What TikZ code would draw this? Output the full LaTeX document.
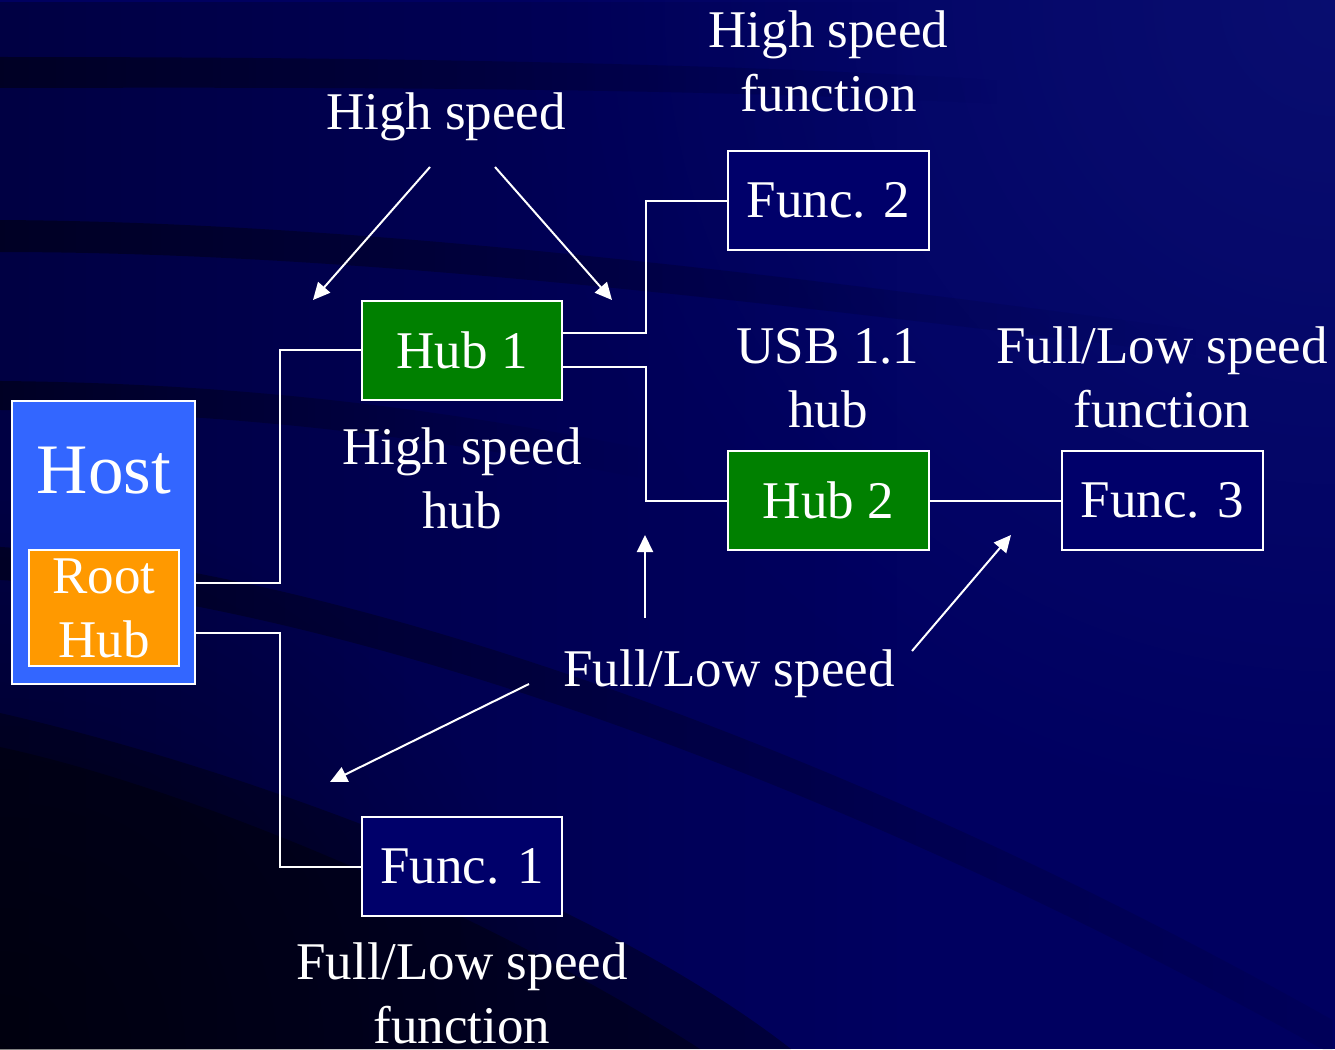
\documentclass[tikz,border=0pt]{standalone}
\usepackage{fontspec}
\setmainfont{Liberation Serif}
\usetikzlibrary{arrows.meta,fadings}
\definecolor{bgbase}{HTML}{000060}
\definecolor{hostblue}{HTML}{3366FF}
\definecolor{rootorange}{HTML}{FF9900}
\definecolor{hubgreen}{HTML}{008000}
\definecolor{funcnavy}{HTML}{00006A}
\definecolor{glowblue}{HTML}{1E2E96}
\tikzfading[name=fadeout right, left color=transparent!0, right color=transparent!100]
\tikzfading[name=fadehalf right, left color=transparent!0, right color=transparent!85]
\tikzfading[name=glowfade, inner color=transparent!0, outer color=transparent!100]
\begin{document}
\begin{tikzpicture}[x=1pt,y=-1pt,
  nodebox/.style={draw=white, line width=2pt, minimum width=200pt, minimum height=99pt,
    inner sep=0pt, text=white, font=\fontsize{53}{64}\selectfont},
  hubbox/.style={nodebox, fill=hubgreen},
  funcbox/.style={nodebox, fill=funcnavy},
  lbl/.style={text=white, font=\fontsize{53}{64}\selectfont, align=center,
    inner sep=0pt, anchor=base},
  wire/.style={draw=white, line width=2pt},
  pointer/.style={draw=white, line width=2pt, -{Triangle[length=17pt,width=16pt]}},
  band/.style={fill=black, opacity=#1},
]
\useasboundingbox (0,0) rectangle (1335,1049);
% ---------- background ----------
\begin{scope}
\clip (0,0) rectangle (1335,1049);
\fill[bgbase] (0,0) rectangle (1335,1049);
\fill[glowblue, opacity=0.3, path fading=glowfade] (1335,0) circle[radius=850pt];
\fill[black, opacity=0.3, path fading=fadeout right] (0,0) rectangle (900,1049);
% band A
\fill[band=0.45, path fading=fadeout right] (0,57) .. controls (350,57) and (700,62) .. (1000,80)
  -- (1000,104) .. controls (700,88) and (350,87) .. (0,88) -- cycle;
% band B
\fill[band=0.45, path fading=fadeout right] (0,220) .. controls (350,222) and (750,270) .. (1200,330)
  -- (1200,355) .. controls (750,300) and (350,252) .. (0,252) -- cycle;
% band C
\fill[band=0.45, path fading=fadeout right] (0,381) .. controls (200,383) and (400,400) .. (650,450)
  -- (650,480) .. controls (400,430) and (200,412) .. (0,410) -- cycle;
% band D
\fill[band=0.4, path fading=fadehalf right] (0,547) .. controls (300,565) and (800,720) .. (1335,1020)
  -- (1335,1055) .. controls (800,755) and (300,598) .. (0,580) -- cycle;
% dark lower-left region
\fill[band=0.35] (0,713) .. controls (250,770) and (600,900) .. (791,1049) -- (0,1049) -- cycle;
\fill[band=0.35] (0,747) .. controls (200,790) and (500,920) .. (700,1049) -- (0,1049) -- cycle;
\fill[black, opacity=0.45, path fading=glowfade] (0,1049) circle[radius=550pt];
\end{scope}
% ---------- boxes ----------
\node[nodebox, fill=hostblue, minimum width=183pt, minimum height=283pt] (host) at (103.5,542.5) {};
\node[text=white, font=\fontsize{71}{80}\selectfont, anchor=base, inner sep=0pt] (hosttxt) at (104,493) {Host};
\node[nodebox, fill=rootorange, minimum width=150pt, minimum height=116pt, align=center] (root) at (104,608) {Root\\Hub};
\node[hubbox] (hub1) at (462,350) {Hub 1};
\node[funcbox, minimum width=201pt] (func2) at (828.5,200.5) {Func. 2};
\node[hubbox, minimum width=201pt] (hub2) at (828.5,500.5) {Hub 2};
\node[funcbox, minimum width=201pt] (func3) at (1162.5,500.5) {Func. 3};
\node[funcbox] (func1) at (462,866.5) {Func. 1};
% ---------- labels (base = last line) ----------
\node[lbl] (hs) at (446,129) {High speed};
\node[lbl] (hsf) at (828.5,111) {High speed\\function};
\node[lbl] (usb) at (828,427) {USB 1.1\\hub};
\node[lbl] (flf3) at (1162,427) {Full/Low speed\\function};
\node[lbl] (hsh) at (462,528) {High speed\\hub};
\node[lbl] (fl) at (729,686) {Full/Low speed};
\node[lbl] (flf1) at (462,1043) {Full/Low speed\\function};
% ---------- wires ----------
\draw[wire] (host.east) ++(0,40.5) -- ++(84,0) |- (hub1.west);
\draw[wire] (host.east) ++(0,90.5) -- ++(84,0) |- (func1.west);
\draw[wire] (hub1.east) ++(0,-17) -- ++(83,0) |- (func2.west);
\draw[wire] (hub1.east) ++(0,17) -- ++(83,0) |- (hub2.west);
\draw[wire] (hub2.east) -- (func3.west);
% ---------- pointers ----------
\coordinate (p1s) at (430,167); \coordinate (p1e) at (313,300);
\coordinate (p2s) at (495,167); \coordinate (p2e) at (612,300);
\coordinate (p3s) at (645,618); \coordinate (p3e) at (645,535);
\coordinate (p4s) at (529,684); \coordinate (p4e) at (330,782);
\coordinate (p5s) at (912,651); \coordinate (p5e) at (1011,535);
\draw[pointer] (p1s) -- (p1e);
\draw[pointer] (p2s) -- (p2e);
\draw[pointer] (p3s) -- (p3e);
\draw[pointer] (p4s) -- (p4e);
\draw[pointer] (p5s) -- (p5e);
\end{tikzpicture}
\end{document}
